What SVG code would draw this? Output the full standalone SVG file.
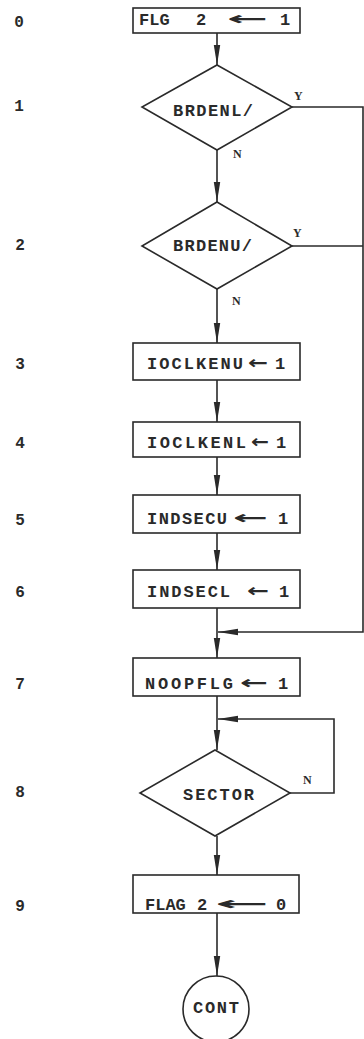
<svg xmlns="http://www.w3.org/2000/svg" width="364" height="1039" viewBox="0 0 364 1039">
<defs>
<style>
.bg{fill:#ffffff}
.box{fill:#ffffff;stroke:#2a2a2a;stroke-width:1.6}
.ln{fill:none;stroke:#2a2a2a;stroke-width:1.6}
.t{font-family:"Liberation Mono","DejaVu Sans Mono",monospace;font-weight:bold;font-size:17px;fill:#2a2a2a}
.yn{font-family:"Liberation Serif","DejaVu Serif",serif;font-weight:bold;font-size:12px;fill:#2a2a2a}
.num{font-family:"Liberation Mono","DejaVu Sans Mono",monospace;font-weight:bold;font-size:16px;fill:#2a2a2a;text-anchor:middle}
.arr{font-family:"DejaVu Sans",sans-serif;font-weight:bold;font-size:18px;fill:#2a2a2a}
</style>
<marker id="ah" viewBox="0 0 20 8" refX="20" refY="4" markerWidth="20" markerHeight="8" markerUnits="userSpaceOnUse" orient="auto">
<path d="M0,0.8 L20,4 L0,7.2 Z" fill="#2a2a2a"/>
</marker>
</defs>
<rect class="bg" x="0" y="0" width="364" height="1039"/>

<g id="step-numbers">
<text class="num" x="19" y="27">0</text>
<text class="num" x="19" y="111">1</text>
<text class="num" x="20" y="250">2</text>
<text class="num" x="20" y="369">3</text>
<text class="num" x="20" y="448">4</text>
<text class="num" x="20" y="525">5</text>
<text class="num" x="20" y="597">6</text>
<text class="num" x="20" y="689">7</text>
<text class="num" x="20" y="797">8</text>
<text class="num" x="20" y="911">9</text>
</g>

<g id="connectors">
<line class="ln" x1="217" y1="33" x2="217" y2="65" marker-end="url(#ah)"/>
<line class="ln" x1="217" y1="150" x2="217" y2="202" marker-end="url(#ah)"/>
<line class="ln" x1="217" y1="289" x2="217" y2="343" marker-end="url(#ah)"/>
<line class="ln" x1="217" y1="380" x2="217" y2="422" marker-end="url(#ah)"/>
<line class="ln" x1="217" y1="457" x2="217" y2="495" marker-end="url(#ah)"/>
<line class="ln" x1="217" y1="533" x2="217" y2="570" marker-end="url(#ah)"/>
<line class="ln" x1="217" y1="608" x2="217" y2="658" marker-end="url(#ah)"/>
<polyline class="ln" points="292,107 363,107 363,632 218,632" marker-end="url(#ah)"/>
<line class="ln" x1="292" y1="246" x2="363" y2="246"/>
<line class="ln" x1="217" y1="696" x2="217" y2="750" marker-end="url(#ah)"/>
<polyline class="ln" points="290,793 334,793 334,719 218,719" marker-end="url(#ah)"/>
<line class="ln" x1="217" y1="836" x2="217" y2="875" marker-end="url(#ah)"/>
<line class="ln" x1="217" y1="913" x2="217" y2="976" marker-end="url(#ah)"/>
<text class="yn" x="294" y="100">Y</text>
<text class="yn" x="293" y="237">Y</text>
<text class="yn" x="233" y="158">N</text>
<text class="yn" x="232" y="305">N</text>
<text class="yn" x="303" y="784">N</text>
</g>

<g id="n0">
<rect class="box" x="133" y="8" width="167" height="25"/>
<text class="t" y="25"><tspan x="139">FLG</tspan> <tspan x="196">2</tspan></text>
<text class="arr" x="227" y="25" textLength="41" lengthAdjust="spacingAndGlyphs">←</text>
<text class="t" x="280" y="25">1</text>
</g>

<g id="n1">
<polygon class="box" points="217,65 292,107 217,150 142,107"/>
<text class="t" x="173" y="116" textLength="80">BRDENL/</text>
</g>

<g id="n2">
<polygon class="box" points="217,202 292,246 217,289 142,246"/>
<text class="t" x="173" y="251" textLength="79">BRDENU/</text>
</g>

<g id="n3">
<rect class="box" x="133" y="343" width="167" height="37"/>
<text class="t" x="147" y="369" textLength="96">IOCLKENU</text>
<text class="arr" x="248" y="369" textLength="20" lengthAdjust="spacingAndGlyphs">←</text>
<text class="t" x="275" y="369">1</text>
</g>

<g id="n4">
<rect class="box" x="133" y="422" width="167" height="35"/>
<text class="t" x="147" y="448" textLength="99">IOCLKENL</text>
<text class="arr" x="251" y="448" textLength="18" lengthAdjust="spacingAndGlyphs">←</text>
<text class="t" x="276" y="448">1</text>
</g>

<g id="n5">
<rect class="box" x="133" y="495" width="167" height="38"/>
<text class="t" x="147" y="524" textLength="80">INDSECU</text>
<text class="arr" x="233" y="524" textLength="35" lengthAdjust="spacingAndGlyphs">←</text>
<text class="t" x="278" y="524">1</text>
</g>

<g id="n6">
<rect class="box" x="133" y="570" width="167" height="38"/>
<text class="t" x="147" y="597" textLength="83">INDSECL</text>
<text class="arr" x="247" y="597" textLength="22" lengthAdjust="spacingAndGlyphs">←</text>
<text class="t" x="279" y="597">1</text>
</g>

<g id="n7">
<rect class="box" x="133" y="658" width="167" height="38"/>
<text class="t" x="145" y="689" textLength="88">NOOPFLG</text>
<text class="arr" x="240" y="689" textLength="28" lengthAdjust="spacingAndGlyphs">←</text>
<text class="t" x="278" y="689">1</text>
</g>

<g id="n8">
<polygon class="box" points="215,750 290,793 215,836 140,793"/>
<text class="t" x="183" y="800" textLength="71">SECTOR</text>
</g>

<g id="n9">
<rect class="box" x="133" y="875" width="166" height="38"/>
<text class="t" y="910"><tspan x="145">FLAG</tspan> <tspan x="197">2</tspan></text>
<text class="arr" x="215" y="910" textLength="54" lengthAdjust="spacingAndGlyphs">←</text>
<text class="t" x="276" y="910">0</text>
</g>

<g id="n10">
<circle class="box" cx="216" cy="1009" r="33"/>
<text class="t" x="193" y="1013" textLength="46">CONT</text>
</g>
</svg>
